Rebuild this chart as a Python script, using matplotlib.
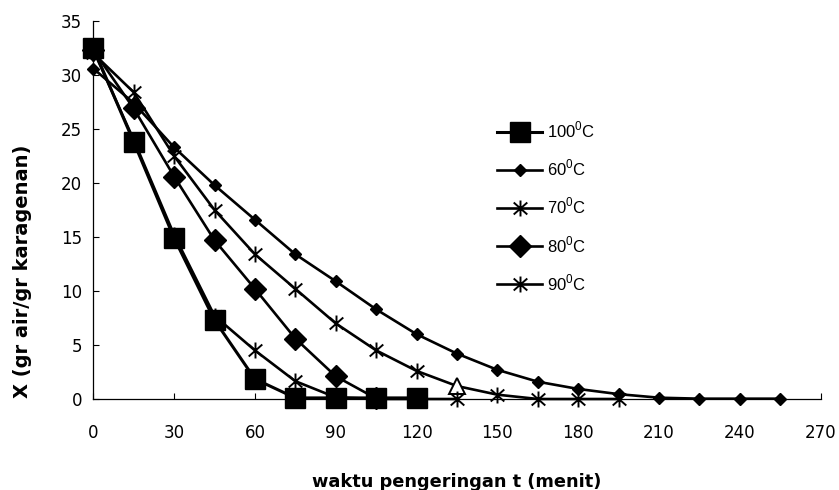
import matplotlib
matplotlib.use("Agg")
import matplotlib.pyplot as plt
from matplotlib.path import Path
from matplotlib.transforms import Bbox

plt.rcParams['font.family'] = ['DejaVu Sans']

# ---- data ----
t100 = [0, 15, 30, 45, 60, 75, 90, 105, 120]
x100 = [32.5, 23.8, 14.9, 7.3, 1.85, 0.1, 0.1, 0.1, 0.1]

t60 = [0, 15, 30, 45, 60, 75, 90, 105, 120, 135, 150, 165, 180, 195, 210, 225, 240, 255]
x60 = [30.6, 27.4, 23.3, 19.8, 16.6, 13.4, 10.9, 8.3, 6.0, 4.2, 2.7, 1.6, 0.93, 0.45, 0.12, 0.03, 0.03, 0.03]

t70 = [0, 15, 30, 45, 60, 75, 90, 105, 120, 135, 150, 165, 180, 195]
x70 = [32.0, 28.4, 22.5, 17.5, 13.4, 10.2, 7.0, 4.5, 2.6, 1.2, 0.4, 0.0, 0.0, 0.0]
odd_point_70 = 9  # point drawn with an open triangle

t80 = [0, 15, 30, 45, 60, 75, 90, 105]
x80 = [32.3, 26.9, 20.6, 14.7, 10.2, 5.6, 2.1, 0.05]

t90 = [0, 15, 30, 45, 60, 75, 90, 105, 120, 135]
x90 = [32.3, 24.0, 15.2, 7.7, 4.5, 1.65, 0.15, 0.0, 0.0, 0.0]

labels = ['100$^\\mathregular{0}$C', '60$^\\mathregular{0}$C', '70$^\\mathregular{0}$C',
          '80$^\\mathregular{0}$C', '90$^\\mathregular{0}$C']
xticks = [0, 30, 60, 90, 120, 150, 180, 210, 240, 270]
yticks = [0, 5, 10, 15, 20, 25, 30, 35]

# asterisk marker (vertical + X)
ast = Path([(0, -1), (0, 1), (-0.85, -0.75), (0.85, 0.75), (-0.85, 0.75), (0.85, -0.75)],
           [Path.MOVETO, Path.LINETO, Path.MOVETO, Path.LINETO, Path.MOVETO, Path.LINETO])

W, H = 839, 490
fig = plt.figure(figsize=(W / 100, H / 100), dpi=100)
ax = fig.add_axes([93.3 / W, (H - 399) / H, (820.7 - 93.3) / W, (399 - 21) / H])

lw = 1.9
l60, = ax.plot(t60, x60, color='black', lw=lw, marker='D', ms=6.5, clip_on=False, zorder=3)
l70, = ax.plot(t70, x70, color='black', lw=lw, marker=ast, ms=11.5, mew=1.4, mfc='none',
               markevery=[i for i in range(len(t70)) if i != odd_point_70], clip_on=False, zorder=3)
ax.plot([t70[odd_point_70]], [x70[odd_point_70]], marker='^', ms=11, mfc='white', mec='black',
        mew=1.4, ls='none', clip_on=False, zorder=3)
l80, = ax.plot(t80, x80, color='black', lw=lw, marker='D', ms=11, clip_on=False, zorder=3)
l90, = ax.plot(t90, x90, color='black', lw=lw, marker=ast, ms=11.5, mew=1.4, mfc='none',
               clip_on=False, zorder=3)
l100, = ax.plot(t100, x100, color='black', lw=2.2, marker='s', ms=14, clip_on=False, zorder=4)

ax.set_xlim(0, 270)
ax.set_ylim(0, 35)
ax.set_xticks(xticks)
ax.set_yticks(yticks)
ax.tick_params(direction='in', length=4, width=0.8, labelsize=12, colors='black')
ax.tick_params(axis='x', pad=18)
ax.tick_params(axis='y', pad=8)
for s in ['top', 'right']:
    ax.spines[s].set_visible(False)
for s in ['left', 'bottom']:
    ax.spines[s].set_linewidth(0.9)

handles = [l100, l60, l70, l80, l90]
leg = fig.legend(handles, labels, loc='upper left', bbox_to_anchor=(497 / W, 1 - 120 / H),
                 frameon=False, fontsize=12, handlelength=2.7, handletextpad=0.3,
                 labelspacing=1.05, borderaxespad=0, borderpad=0,
                 prop={'family': ['Liberation Sans', 'DejaVu Sans'], 'size': 12})

fig.text(457 / W, 1 - 487 / H, 'waktu pengeringan t (menit)', ha='center', va='baseline',
         fontsize=12.8, fontweight='bold')
yl = fig.text(23 / W, (H - 398) / H, 'X (gr air/gr karagenan)', rotation=90, ha='center',
              va='bottom', fontsize=14, fontweight='bold')
yl.set_clip_box(Bbox([[0, 0], [W, H - 28]]))
yl.set_clip_on(True)

fig.savefig('out.png', dpi=100)
